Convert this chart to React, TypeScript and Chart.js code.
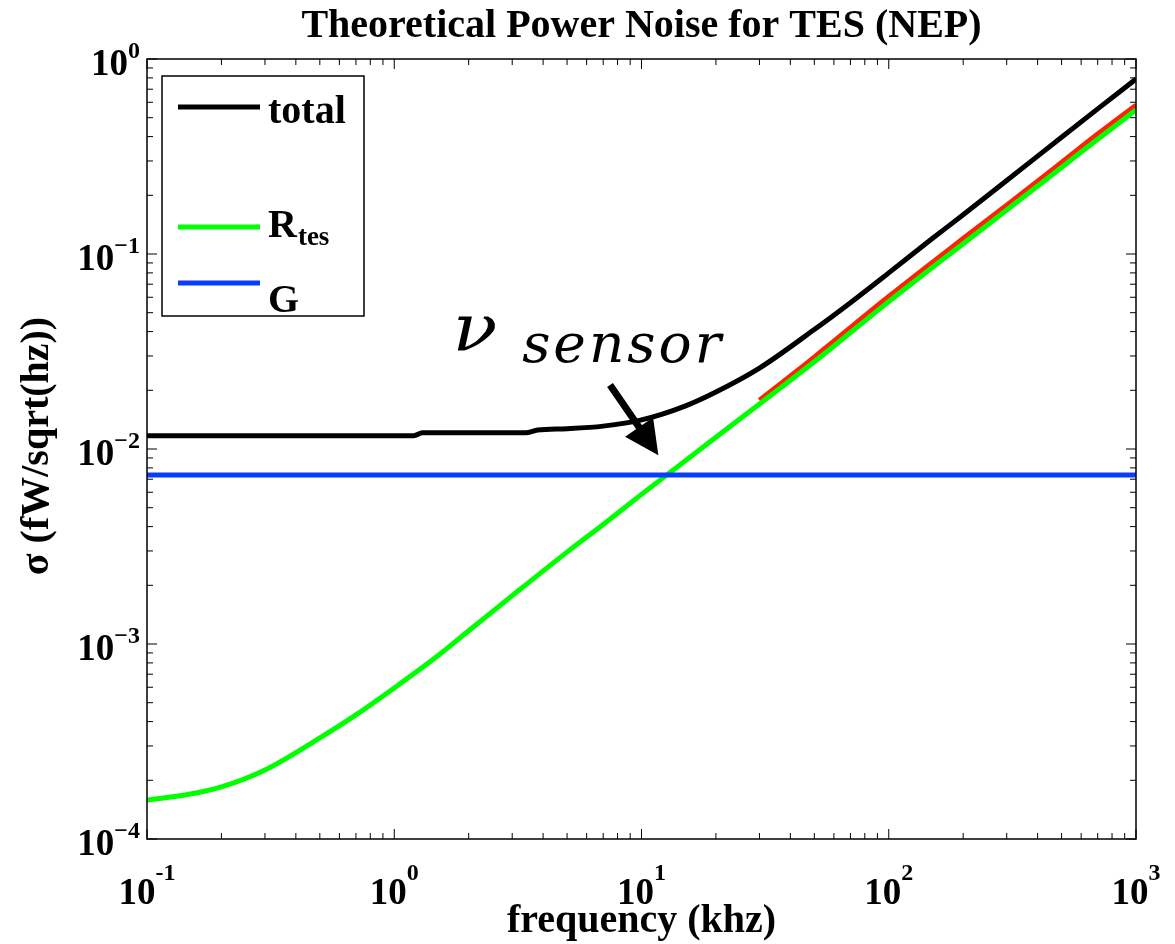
import React, { useEffect, useRef } from "react";
import { Chart, registerables } from "chart.js";

Chart.register(...registerables);

// ---- data ----
const FREQ_TOTAL = [0.1, 0.5, 1.2, 1.3, 3.4, 3.8, 5, 7, 10, 15, 20, 30, 50, 70, 100, 150, 200, 300, 500, 700, 1000];
const TOTAL = [0.0117, 0.0117, 0.0117, 0.0121, 0.0121, 0.0125, 0.0127, 0.0131, 0.0141, 0.0166, 0.0196, 0.026, 0.041, 0.0563, 0.08, 0.12, 0.159, 0.238, 0.397, 0.555, 0.79];

const FREQ_RTES = [0.1, 0.15, 0.2, 0.3, 0.5, 0.7, 1, 1.5, 2, 3, 5, 7, 10, 20, 30, 50, 100, 200, 300, 500, 700, 1000];
const RTES = [1.58e-4, 1.7e-4, 1.85e-4, 2.26e-4, 3.3e-4, 4.33e-4, 5.95e-4, 8.7e-4, 1.17e-3, 1.77e-3, 2.96e-3, 4.1e-3, 5.85e-3, 1.15e-2, 1.7e-2, 2.8e-2, 5.7e-2, 0.113, 0.168, 0.278, 0.388, 0.548];

const FREQ_RED = [30, 50, 100, 200, 300, 500, 700, 1000];
const RED = [0.0178, 0.0296, 0.0605, 0.12, 0.178, 0.295, 0.412, 0.58];

const FREQ_G = [0.1, 1000];
const G = [0.00736, 0.00736];

const X_TICKS = [0.1, 1, 10, 100, 1000];
const X_TICK_EXP = ["-1", "0", "1", "2", "3"];
const Y_TICKS = [1e-4, 1e-3, 1e-2, 1e-1, 1];
const Y_TICK_EXP = ["\u22124", "\u22123", "\u22122", "\u22121", "0"];

const TITLE = "Theoretical Power Noise for TES (NEP)";
const X_LABEL = "frequency (khz)";
const Y_LABEL = "\u03c3 (fW/sqrt(hz))";

const LEGEND_NAMES = ["total", "", "R", "G"];
const LEGEND_SUBS = ["", "", "tes", ""];
const LEGEND_COLORS = ["#000000", "#ffffff", "#00ff00", "#0a3cff"];

// annotation anchors, in data units
const ARROW_TAIL = { x: 7.46, y: 0.0213 };
const ARROW_TIP = { x: 11.7, y: 0.0093 };
const NU_POS = { x: 1.72, y: 0.0318 };
const SUB_POS = { x: 3.29, y: 0.0279 };

const pts = (xs: number[], ys: number[]) => xs.map((x, i) => ({ x, y: ys[i] }));

const BOLD = "'Liberation Serif', 'Times New Roman', serif";

function drawText(ctx: CanvasRenderingContext2D, s: string, x: number, y: number, font: string, align: CanvasTextAlign = "left") {
  ctx.font = font;
  ctx.textAlign = align;
  ctx.textBaseline = "alphabetic";
  ctx.fillStyle = "#000";
  ctx.fillText(s, x, y);
}

const matlabPlugin = {
  id: "matlabLook",
  afterDraw(chart: any) {
    const { ctx, chartArea: ca, scales } = chart;
    const xs = scales.x;
    const ys = scales.y;
    ctx.save();

    // axes box
    ctx.strokeStyle = "#000";
    ctx.lineWidth = 1.5;
    ctx.strokeRect(ca.left, ca.top, ca.right - ca.left, ca.bottom - ca.top);

    // ticks (inward, all four sides)
    ctx.lineWidth = 1;
    ctx.beginPath();
    for (let i = 0; i < X_TICKS.length; i++) {
      const d = X_TICKS[i];
      const px = xs.getPixelForValue(d);
      ctx.moveTo(px, ca.bottom); ctx.lineTo(px, ca.bottom - 10);
      ctx.moveTo(px, ca.top); ctx.lineTo(px, ca.top + 10);
      if (i < X_TICKS.length - 1) {
        for (let k = 2; k <= 9; k++) {
          const p = xs.getPixelForValue(d * k);
          ctx.moveTo(p, ca.bottom); ctx.lineTo(p, ca.bottom - 6);
          ctx.moveTo(p, ca.top); ctx.lineTo(p, ca.top + 6);
        }
      }
    }
    for (let i = 0; i < Y_TICKS.length; i++) {
      const d = Y_TICKS[i];
      const py = ys.getPixelForValue(d);
      ctx.moveTo(ca.left, py); ctx.lineTo(ca.left + 10, py);
      ctx.moveTo(ca.right, py); ctx.lineTo(ca.right - 10, py);
      if (i < Y_TICKS.length - 1) {
        for (let k = 2; k <= 9; k++) {
          const p = ys.getPixelForValue(d * k);
          ctx.moveTo(ca.left, p); ctx.lineTo(ca.left + 6, p);
          ctx.moveTo(ca.right, p); ctx.lineTo(ca.right - 6, p);
        }
      }
    }
    ctx.stroke();

    // x tick labels
    const baseFont = `bold 37px ${BOLD}`;
    const expFont = `bold 24px ${BOLD}`;
    X_TICKS.forEach((d, i) => {
      const px = xs.getPixelForValue(d);
      ctx.font = baseFont;
      const w1 = ctx.measureText("10").width;
      ctx.font = expFont;
      const w2 = ctx.measureText(X_TICK_EXP[i]).width;
      const x0 = px - (w1 + w2) / 2;
      drawText(ctx, "10", x0, ca.bottom + 65, baseFont);
      drawText(ctx, X_TICK_EXP[i], x0 + w1, ca.bottom + 41, expFont);
    });
    // y tick labels
    Y_TICKS.forEach((d, i) => {
      const py = ys.getPixelForValue(d);
      ctx.font = expFont;
      const w2 = ctx.measureText(Y_TICK_EXP[i]).width;
      const right = ca.left - 7;
      drawText(ctx, Y_TICK_EXP[i], right - w2, py - 1, expFont);
      drawText(ctx, "10", right - w2, py + 16, baseFont, "right");
    });

    // title & axis labels
    const cx = (ca.left + ca.right) / 2;
    drawText(ctx, TITLE, cx, 37, `bold 40px ${BOLD}`, "center");
    drawText(ctx, X_LABEL, cx, ca.bottom + 93, `bold 40px ${BOLD}`, "center");
    ctx.save();
    ctx.translate(48, (ca.top + ca.bottom) / 2 - 3);
    ctx.rotate(-Math.PI / 2);
    drawText(ctx, Y_LABEL, 0, 0, `bold 40px ${BOLD}`, "center");
    ctx.restore();

    // legend
    const lx = ca.left + 15, ly = ca.top + 17, lw = 202, lh = 240;
    ctx.fillStyle = "#fff";
    ctx.fillRect(lx, ly, lw, lh);
    ctx.strokeStyle = "#000";
    ctx.lineWidth = 1.5;
    ctx.strokeRect(lx, ly, lw, lh);
    const lineYs = [107, 137, 227, 283];
    const textYs = [123, 153, 237, 312];
    const legFont = `bold 40px ${BOLD}`;
    LEGEND_NAMES.forEach((name, i) => {
      ctx.strokeStyle = LEGEND_COLORS[i];
      ctx.lineWidth = 5;
      ctx.beginPath();
      ctx.moveTo(lx + 16, lineYs[i]);
      ctx.lineTo(lx + 98, lineYs[i]);
      ctx.stroke();
      if (name) {
        drawText(ctx, name, lx + 106, textYs[i], legFont);
        if (LEGEND_SUBS[i]) {
          ctx.font = legFont;
          const w = ctx.measureText(name).width;
          drawText(ctx, LEGEND_SUBS[i], lx + 106 + w + 1, textYs[i] + 8, `bold 27px ${BOLD}`);
        }
      }
    });

    // annotation: nu_sensor and arrow
    const mathFont = "'DejaVu Serif', 'Liberation Serif', serif";
    ctx.save();
    ctx.translate(xs.getPixelForValue(NU_POS.x), ys.getPixelForValue(NU_POS.y));
    ctx.scale(1.12, 1);
    drawText(ctx, "\u03bd", 0, 0, `italic 66px ${mathFont}`);
    ctx.restore();
    (ctx as any).letterSpacing = "3px";
    drawText(ctx, "sensor", xs.getPixelForValue(SUB_POS.x), ys.getPixelForValue(SUB_POS.y), `italic 55px ${mathFont}`);
    (ctx as any).letterSpacing = "0px";

    const tx = xs.getPixelForValue(ARROW_TAIL.x), ty = ys.getPixelForValue(ARROW_TAIL.y);
    const hx = xs.getPixelForValue(ARROW_TIP.x), hy = ys.getPixelForValue(ARROW_TIP.y);
    const len = Math.hypot(hx - tx, hy - ty);
    const ux = (hx - tx) / len, uy = (hy - ty) / len;
    const headL = 34, headW = 17;
    const bx = hx - ux * headL, by = hy - uy * headL;
    ctx.strokeStyle = "#000";
    ctx.lineWidth = 7;
    ctx.lineCap = "butt";
    ctx.beginPath();
    ctx.moveTo(tx, ty);
    ctx.lineTo(bx + ux * 4, by + uy * 4);
    ctx.stroke();
    ctx.fillStyle = "#000";
    ctx.beginPath();
    ctx.moveTo(hx, hy);
    ctx.lineTo(bx - uy * headW, by + ux * headW);
    ctx.lineTo(bx + uy * headW, by - ux * headW);
    ctx.closePath();
    ctx.fill();

    ctx.restore();
  },
};

export default function App() {
  const ref = useRef<HTMLCanvasElement | null>(null);
  useEffect(() => {
    if (!ref.current) return;
    const common = { pointRadius: 0, borderWidth: 5, fill: false, cubicInterpolationMode: "monotone" as const };
    const chart = new Chart(ref.current, {
      type: "line",
      data: {
        datasets: [
          { label: "total", data: pts(FREQ_TOTAL, TOTAL), borderColor: "#000000", order: 1, ...common },
          { label: "", data: pts(FREQ_RED, RED), borderColor: "#ff2200", order: 3, ...common },
          { label: "R_tes", data: pts(FREQ_RTES, RTES), borderColor: "#00ff00", order: 2, ...common },
          { label: "G", data: pts(FREQ_G, G), borderColor: "#0a3cff", order: 0, ...common },
        ],
      },
      options: {
        responsive: false,
        animation: false,
        devicePixelRatio: 1,
        events: [],
        layout: { padding: { left: 147, top: 59, right: 39, bottom: 105 } },
        plugins: { legend: { display: false }, title: { display: false }, tooltip: { enabled: false } },
        scales: {
          x: { type: "logarithmic", min: 0.1, max: 1000, display: false },
          y: { type: "logarithmic", min: 1e-4, max: 1, display: false },
        },
      },
      plugins: [matlabPlugin],
    });
    return () => chart.destroy();
  }, []);
  return (
    <div style={{ position: "fixed", left: 0, top: 0, width: 1175, height: 944, background: "#fff" }}>
      <canvas ref={ref} width={1175} height={944} style={{ display: "block" }} />
    </div>
  );
}
